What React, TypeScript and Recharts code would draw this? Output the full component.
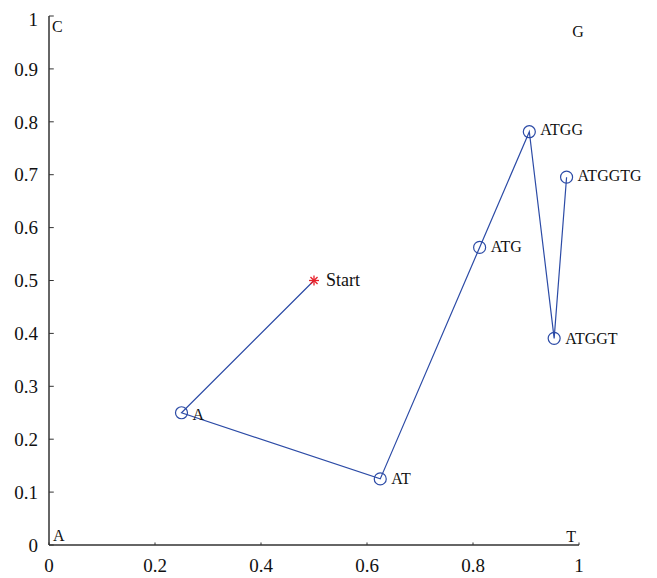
import React from 'react';
import { ComposedChart, Scatter, XAxis, YAxis, ReferenceLine } from 'recharts';

const seqLabels = ['A', 'AT', 'ATG', 'ATGG', 'ATGGT', 'ATGGTG'];
const seqX = [0.25, 0.625, 0.8125, 0.90625, 0.953125, 0.9765625];
const seqY = [0.25, 0.125, 0.5625, 0.78125, 0.390625, 0.6953125];
const startPoint = { x: 0.5, y: 0.5, label: 'Start' };
const xTicks = [0, 0.2, 0.4, 0.6, 0.8, 1];
const yTicks = [0, 0.1, 0.2, 0.3, 0.4, 0.5, 0.6, 0.7, 0.8, 0.9, 1];
const cornerLabels = [
  { x: 0, y: 1, label: 'C', anchor: 'start', dx: 3, dy: 16 },
  { x: 1, y: 1, label: 'G', anchor: 'middle', dx: -1, dy: 21 },
  { x: 0, y: 0, label: 'A', anchor: 'start', dx: 4, dy: -4 },
  { x: 1, y: 0, label: 'T', anchor: 'end', dx: -3, dy: -3 },
];

const seqPoints = seqLabels.map((label, i) => ({ x: seqX[i], y: seqY[i], label }));
const pathPoints = [startPoint, ...seqPoints];

const BLUE = '#2c4ba6';
const AXIS = '#333';
const labelDy: Record<string, number> = { A: 4, AT: 1, ATG: 1, ATGG: 0, ATGGT: 2, ATGGTG: 0 };

const CircleShape = (props: any) => {
  const { cx, cy, payload } = props;
  return (
    <g>
      <circle cx={cx} cy={cy} r={6} fill="none" stroke={BLUE} strokeWidth={1.2} />
      <text x={cx + 11} y={cy + (labelDy[payload.label] || 0)} dominantBaseline="middle" fontFamily="'Liberation Serif', serif" fontSize={16} fill="#111">
        {payload.label}
      </text>
    </g>
  );
};

const StarShape = (props: any) => {
  const { cx, cy, payload } = props;
  const r = 5;
  const lines = [0, 45, 90, 135].map((a) => {
    const rad = (a * Math.PI) / 180;
    return (
      <line key={a} x1={cx - r * Math.cos(rad)} y1={cy - r * Math.sin(rad)} x2={cx + r * Math.cos(rad)} y2={cy + r * Math.sin(rad)} stroke="#e8202a" strokeWidth={1.3} />
    );
  });
  return (
    <g>
      {lines}
      <text x={cx + 12} y={cy + 1} dominantBaseline="middle" fontFamily="'Liberation Serif', serif" fontSize={18} fill="#111">
        {payload.label}
      </text>
    </g>
  );
};

const CornerShape = (props: any) => {
  const { cx, cy, payload } = props;
  return (
    <text x={cx + payload.dx} y={cy + payload.dy} textAnchor={payload.anchor} fontFamily="'Liberation Serif', serif" fontSize={16} fill="#111">
      {payload.label}
    </text>
  );
};

const NoShape = () => <g />;

const tickFont = { fontFamily: "'Liberation Serif', serif", fontSize: 19, fill: '#111' };

export default function App() {
  const tx = 0.009;
  const ty = 0.008;
  return (
    <div style={{ width: 649, height: 570 }}>
      <ComposedChart width={649} height={570} margin={{ top: 8, right: 78, bottom: 8, left: 6 }}>
        <XAxis
          type="number"
          dataKey="x"
          domain={[0, 1]}
          ticks={xTicks}
          tickSize={0}
          tickMargin={14}
          height={25}
          tick={tickFont}
          axisLine={{ stroke: AXIS, strokeWidth: 1.5 }}
          tickFormatter={(v: number) => String(v)}
        />
        <YAxis
          type="number"
          dataKey="y"
          domain={[0, 1]}
          ticks={yTicks}
          tickSize={0}
          tickMargin={11}
          width={35}
          tick={tickFont}
          axisLine={{ stroke: AXIS, strokeWidth: 1.5 }}
          tickFormatter={(v: number) => String(v)}
        />
        {xTicks.map((t) => (
          <ReferenceLine key={'xt' + t} segment={[{ x: t, y: 0 }, { x: t, y: ty * 0.6 }]} stroke={AXIS} strokeWidth={1} ifOverflow="visible" />
        ))}
        {yTicks.map((t) => (
          <ReferenceLine key={'yt' + t} segment={[{ x: 0, y: t }, { x: tx, y: t }]} stroke={AXIS} strokeWidth={1} ifOverflow="visible" />
        ))}
        <Scatter data={pathPoints} line={{ stroke: BLUE, strokeWidth: 1.2 }} shape={NoShape} isAnimationActive={false} />
        <Scatter data={seqPoints} shape={CircleShape} isAnimationActive={false} />
        <Scatter data={[startPoint]} shape={StarShape} isAnimationActive={false} />
        <Scatter data={cornerLabels} shape={CornerShape} isAnimationActive={false} />
      </ComposedChart>
    </div>
  );
}
